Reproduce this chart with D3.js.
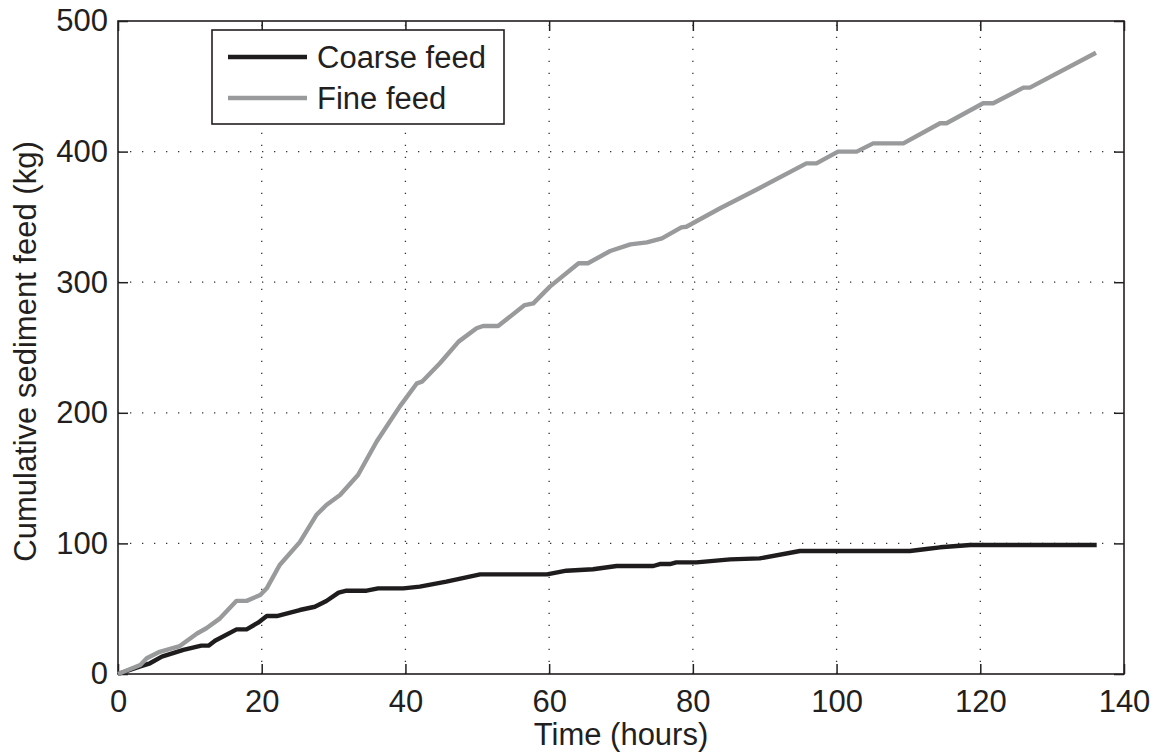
<!DOCTYPE html>
<html>
<head>
<meta charset="utf-8">
<script src="https://cdnjs.cloudflare.com/ajax/libs/d3/7.8.5/d3.min.js"></script>
<style>
  body { margin: 0; background: #fff; }
  svg { display: block; font-family: "Liberation Sans", Arial, Helvetica, sans-serif; }
  .axis text { fill: #231f20; font-size: 31px; }
  .axis line { stroke: #231f20; stroke-width: 1.5; }
  .grid line { stroke: #333; stroke-width: 1.3; stroke-dasharray: 1.3,10.7; }
</style>
</head>
<body>
<svg width="1160" height="756"></svg>
<script>
var coarseHours = [0, 3.1, 4.45, 6.1, 9.1, 11.6, 12.6, 13.5, 16.5, 17.9, 19.5, 20.7, 22.1, 25.3, 27.4, 29, 30.7, 31.8, 34.6, 36.2, 39.7, 42, 45.7, 50.4, 59.7, 62.4, 66.1, 69.4, 74.5, 75.4, 76.8, 77.7, 80.5, 85.2, 89.3, 94.9, 110.2, 112.5, 114.4, 118.6, 136.2];
var coarseFeed  = [0, 5.8, 8.2, 13.3, 18.4, 21.7, 21.7, 25.5, 34.2, 34.2, 39.3, 44.4, 44.4, 49, 51.5, 55.9, 62.3, 63.8, 63.8, 65.6, 65.6, 66.9, 70.7, 76.3, 76.3, 79.1, 80.2, 82.7, 82.7, 84.2, 84.2, 85.5, 85.5, 87.8, 88.5, 94.2, 94.2, 95.7, 97, 98.8, 98.8];

var fineHours = [0, 3.1, 4.0, 5.8, 8.6, 11, 12.3, 14.2, 16.5, 17.9, 19.8, 20.7, 22.5, 25.3, 27.6, 29, 30.9, 33.4, 36, 39.2, 41.6, 42.3, 44.8, 47.4, 49.9, 50.8, 52.9, 56.6, 57.8, 60.1, 64.1, 65.4, 68.5, 71.3, 73.6, 75.7, 78.4, 79.1, 83.8, 88.9, 95.8, 97.2, 100.2, 102.8, 105.1, 109.3, 114.4, 115.3, 120.4, 121.8, 126, 126.9, 136.1];
var fineFeed  = [0, 6.9, 12, 17, 21.4, 31, 35, 42.6, 56, 56, 60.5, 65.6, 83.5, 101, 121.7, 129.4, 137, 152.4, 178, 204.7, 222.6, 223.8, 237.9, 254.5, 264.7, 266.5, 266.5, 282.5, 283.8, 296.6, 314.5, 314.5, 323.9, 329, 330.5, 333.6, 342, 342.5, 356.6, 371, 391, 391, 400, 400, 406.3, 406.3, 421.7, 421.7, 437, 437, 449, 449, 475.7];

var xTicks = [0, 20, 40, 60, 80, 100, 120, 140];
var yTicks = [0, 100, 200, 300, 400, 500];
var seriesNames = ["Coarse feed", "Fine feed"];
var seriesColors = ["#1f1c1d", "#999a9c"];

var svg = d3.select("svg"),
    margin = {top: 21, right: 36, bottom: 82, left: 118},
    width = +svg.attr("width") - margin.left - margin.right,
    height = +svg.attr("height") - margin.top - margin.bottom,
    g = svg.append("g").attr("transform", "translate(" + margin.left + "," + margin.top + ")");

var x = d3.scaleLinear().domain([0, 140]).range([0, width]);
var y = d3.scaleLinear().domain([0, 500]).range([height, 0]);

// dotted grid
g.append("g").attr("class", "grid")
  .selectAll("line")
  .data(xTicks.slice(1, -1))
  .enter().append("line")
    .attr("x1", function(d) { return x(d); })
    .attr("x2", function(d) { return x(d); })
    .attr("y1", height)
    .attr("y2", 0);

g.append("g").attr("class", "grid")
  .selectAll("line")
  .data(yTicks.slice(1, -1))
  .enter().append("line")
    .attr("x1", 0)
    .attr("x2", width)
    .attr("y1", function(d) { return y(d); })
    .attr("y2", function(d) { return y(d); });

// axes, ticks inward on all four sides
g.append("g").attr("class", "axis")
  .attr("transform", "translate(0," + height + ")")
  .call(d3.axisBottom(x).tickValues(xTicks).tickSize(-10).tickPadding(16))
  .call(function(a) { a.select(".domain").remove(); });

g.append("g").attr("class", "axis")
  .call(d3.axisTop(x).tickValues(xTicks).tickSize(-10).tickFormat(""))
  .call(function(a) { a.select(".domain").remove(); });

g.append("g").attr("class", "axis")
  .call(d3.axisLeft(y).tickValues(yTicks).tickSize(-10).tickPadding(10))
  .call(function(a) { a.select(".domain").remove(); });

g.append("g").attr("class", "axis")
  .attr("transform", "translate(" + width + ",0)")
  .call(d3.axisRight(y).tickValues(yTicks).tickSize(-10).tickFormat(""))
  .call(function(a) { a.select(".domain").remove(); });

g.selectAll(".axis").attr("font-family", null).attr("font-size", null);

g.append("rect")
  .attr("width", width)
  .attr("height", height)
  .attr("fill", "none")
  .attr("stroke", "#231f20")
  .attr("stroke-width", 1.6);

// series
var line = d3.line()
  .x(function(d) { return x(d[0]); })
  .y(function(d) { return y(d[1]); });

var series = [
  d3.zip(coarseHours, coarseFeed),
  d3.zip(fineHours, fineFeed)
];

g.append("g")
  .selectAll("path")
  .data(series)
  .enter().append("path")
    .attr("d", line)
    .attr("fill", "none")
    .attr("stroke", function(d, i) { return seriesColors[i]; })
    .attr("stroke-width", 4.4)
    .attr("stroke-linejoin", "round");

// axis titles
svg.append("text")
  .attr("x", margin.left + width / 2)
  .attr("y", 745)
  .attr("text-anchor", "middle")
  .attr("fill", "#231f20")
  .attr("font-size", 31)
  .text("Time (hours)");

svg.append("text")
  .attr("transform", "translate(36," + (margin.top + height / 2 + 4) + ") rotate(-90)")
  .attr("text-anchor", "middle")
  .attr("fill", "#231f20")
  .attr("font-size", 31)
  .text("Cumulative sediment feed (kg)");

// legend
var legend = g.append("g").attr("transform", "translate(" + (212 - margin.left) + "," + (30 - margin.top) + ")");

legend.append("rect")
  .attr("width", 292)
  .attr("height", 94)
  .attr("fill", "#fff")
  .attr("stroke", "#231f20")
  .attr("stroke-width", 1.6);

var item = legend.selectAll("g")
  .data(seriesNames)
  .enter().append("g")
    .attr("transform", function(d, i) { return "translate(0," + (27 + i * 41) + ")"; });

item.append("line")
  .attr("x1", 16)
  .attr("x2", 95)
  .attr("stroke", function(d, i) { return seriesColors[i]; })
  .attr("stroke-width", 4.4);

item.append("text")
  .attr("x", 105)
  .attr("dy", "0.35em")
  .attr("fill", "#231f20")
  .attr("font-size", 31)
  .text(function(d) { return d; });
</script>
</body>
</html>
